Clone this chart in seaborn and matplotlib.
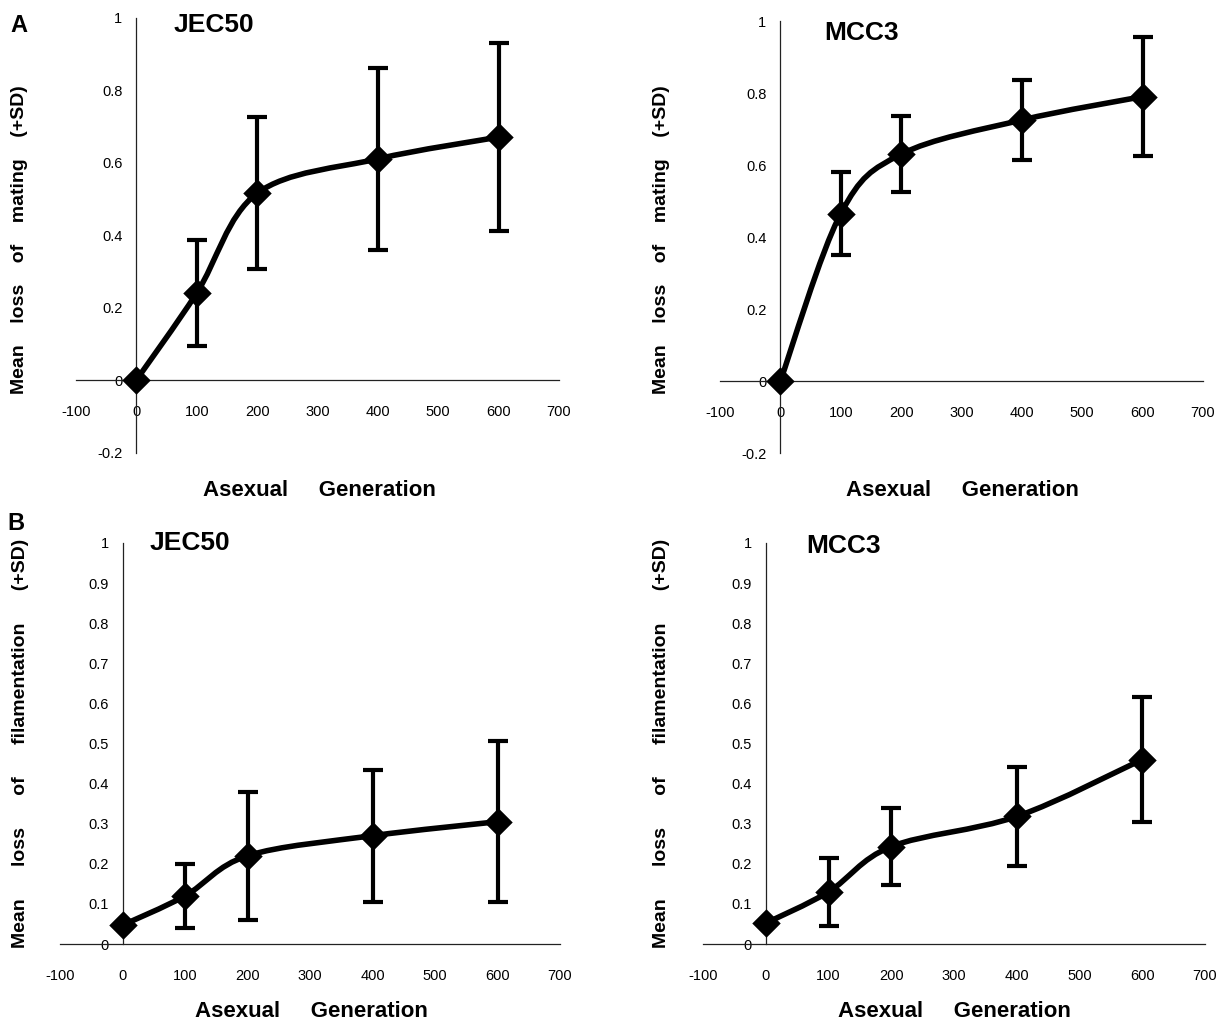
import numpy as np
import pandas as pd
import seaborn as sns
import matplotlib
matplotlib.use("Agg")
import matplotlib.pyplot as plt
from matplotlib.path import Path
from matplotlib.patches import PathPatch

# ---------------- data ----------------
generations = [0, 100, 200, 400, 600]

jec50_mating = [0.0, 0.24, 0.515, 0.61, 0.67]
jec50_mating_sd = [0.0, 0.145, 0.21, 0.25, 0.26]

mcc3_mating = [0.0, 0.465, 0.63, 0.725, 0.79]
mcc3_mating_sd = [0.0, 0.115, 0.105, 0.11, 0.165]

jec50_filament = [0.047, 0.12, 0.22, 0.27, 0.305]
jec50_filament_sd = [0.0, 0.08, 0.16, 0.165, 0.2]

mcc3_filament = [0.052, 0.13, 0.243, 0.318, 0.46]
mcc3_filament_sd = [0.0, 0.084, 0.095, 0.123, 0.155]

x_ticks = [-100, 0, 100, 200, 300, 400, 500, 600, 700]
y_ticks_a = [-0.2, 0, 0.2, 0.4, 0.6, 0.8, 1]
y_ticks_b = [0, 0.1, 0.2, 0.3, 0.4, 0.5, 0.6, 0.7, 0.8, 0.9, 1]

strains = ["JEC50", "MCC3"]

sns.set_style("white")
plt.rcParams['font.family'] = ['Liberation Sans', 'DejaVu Sans']
plt.rcParams['text.color'] = 'black'
plt.rcParams['axes.labelcolor'] = 'black'

W, H = 1221, 1022
fig = plt.figure(figsize=(W / 100, H / 100), dpi=100)


def px_axes(x0, x1, y0, y1):
    return fig.add_axes([x0 / W, 1 - y1 / H, (x1 - x0) / W, (y1 - y0) / H])


def smooth_path(xs, ys):
    pts = np.column_stack([xs, ys]).astype(float)
    n = len(pts)
    verts = [pts[0]]
    codes = [Path.MOVETO]
    for i in range(n - 1):
        p0 = pts[i - 1] if i > 0 else pts[i]
        p1 = pts[i]
        p2 = pts[i + 1]
        p3 = pts[i + 2] if i + 2 < n else pts[i + 1]
        c1 = p1 + (p2 - p0) / 6.0
        c2 = p2 - (p3 - p1) / 6.0
        verts += [c1, c2, p2]
        codes += [Path.CURVE4] * 3
    return Path(verts, codes)


def fmt(v):
    if abs(v - round(v)) < 1e-9:
        return str(int(round(v)))
    return f"{v:g}"


def draw_panel(ax, values, sds, yticks, ylim):
    df = pd.DataFrame({"gen": generations, "val": values, "sd": sds})
    ax.set_xlim(-100, 700)
    ax.set_ylim(*ylim)
    ax.add_patch(PathPatch(smooth_path(df["gen"], df["val"]), facecolor="none",
                           edgecolor="black", lw=4.0, capstyle="round",
                           joinstyle="round", zorder=3))
    ax.errorbar(df["gen"], df["val"], yerr=df["sd"], fmt="none",
                ecolor="black", elinewidth=3.0, capsize=7.5, capthick=3.0, zorder=4)
    sns.scatterplot(data=df, x="gen", y="val", marker="D", s=210, color="black",
                    edgecolor="black", linewidth=0, ax=ax, zorder=5, legend=False)
    for side in ["top", "right"]:
        ax.spines[side].set_visible(False)
    ax.spines["left"].set_position(("data", 0))
    ax.spines["bottom"].set_position(("data", 0))
    for side in ["left", "bottom"]:
        ax.spines[side].set_linewidth(0.9)
        ax.spines[side].set_color("#222222")
    ax.set_xticks(x_ticks)
    ax.set_xticklabels([fmt(t) for t in x_ticks])
    ax.set_yticks(yticks)
    ax.set_yticklabels([fmt(t) for t in yticks])
    ax.tick_params(axis="x", direction="out", length=3, width=0.8, pad=15,
                   labelsize=10.5, colors="black")
    ax.tick_params(axis="y", direction="out", length=3, width=0.8, pad=7,
                   labelsize=10.5, colors="black")
    ax.set_xlabel("")
    ax.set_ylabel("")
    ax.set_facecolor("none")


ax1 = px_axes(76, 559, 17.5, 452.5)
draw_panel(ax1, jec50_mating, jec50_mating_sd, y_ticks_a, (-0.2, 1.0))
ax2 = px_axes(720, 1203, 21, 453)
draw_panel(ax2, mcc3_mating, mcc3_mating_sd, y_ticks_a, (-0.2, 1.0))
ax3 = px_axes(60, 560, 543, 944)
draw_panel(ax3, jec50_filament, jec50_filament_sd, y_ticks_b, (0, 1.0))
ax4 = px_axes(703, 1205, 543, 944)
draw_panel(ax4, mcc3_filament, mcc3_filament_sd, y_ticks_b, (0, 1.0))

title_kw = dict(fontsize=19, fontweight="bold", ha="left", va="center")
fig.text(174 / W, 1 - 25 / H, strains[0], **title_kw)
fig.text(824 / W, 1 - 33 / H, strains[1], **title_kw)
fig.text(150 / W, 1 - 543 / H, strains[0], **title_kw)
fig.text(806 / W, 1 - 546 / H, strains[1], **title_kw)

ylab_a = "    ".join(["Mean", "loss", "of", "mating", "(+SD)"])
ylab_b = "      ".join(["Mean", "loss", "of", "filamentation", "(+SD)"])
xlab = "Asexual" + "     " + "Generation"

ylab_kw = dict(fontsize=14, fontweight="bold", ha="center", va="center", rotation=90)
fig.text(20 / W, 1 - 240 / H, ylab_a, **ylab_kw)
fig.text(661 / W, 1 - 240 / H, ylab_a, **ylab_kw)
fig.text(21 / W, 1 - 743 / H, ylab_b, **ylab_kw)
fig.text(662 / W, 1 - 743 / H, ylab_b, **ylab_kw)

xlab_kw = dict(fontsize=16, fontweight="bold", ha="center", va="center")
fig.text(319 / W, 1 - 491 / H, xlab, **xlab_kw)
fig.text(962 / W, 1 - 491 / H, xlab, **xlab_kw)
fig.text(311 / W, 1 - 1011 / H, xlab, **xlab_kw)
fig.text(954 / W, 1 - 1011 / H, xlab, **xlab_kw)

fig.text(19 / W, 1 - 25 / H, "A", fontsize=17, fontweight="bold", ha="center", va="center")
fig.text(16 / W, 1 - 523 / H, "B", fontsize=17, fontweight="bold", ha="center", va="center")

fig.savefig("out.png", dpi=100)
